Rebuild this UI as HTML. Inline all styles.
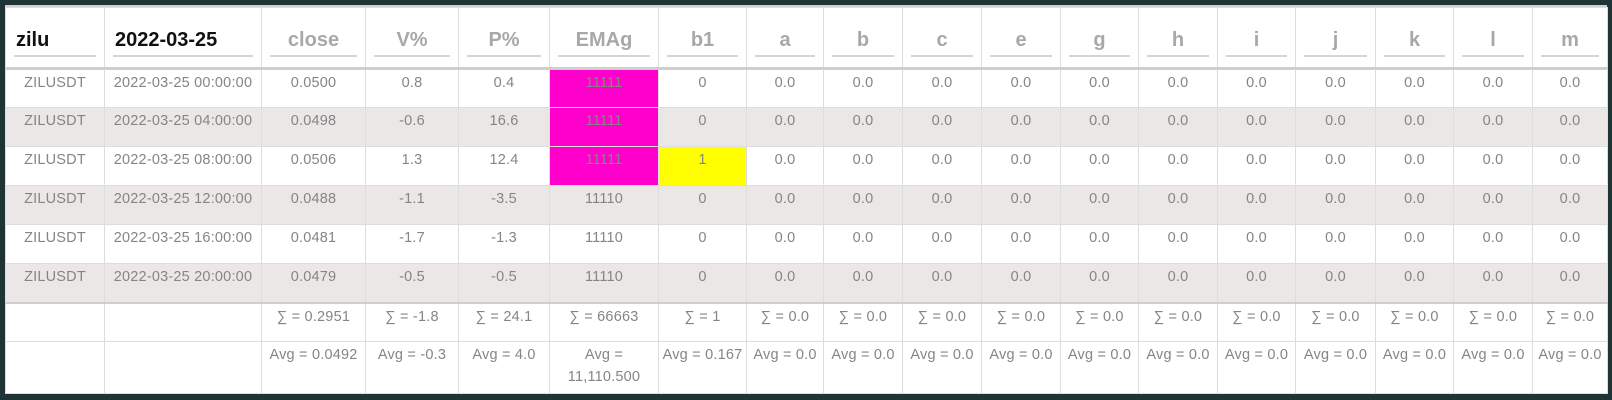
<!DOCTYPE html>
<html><head><meta charset="utf-8">
<style>
html,body{margin:0;padding:0;background:#1f3434;}
body{width:1612px;height:400px;overflow:hidden;position:relative;font-family:"Liberation Sans",sans-serif;}
.wrap{position:absolute;left:5px;top:5px;width:1602px;height:389px;background:#fff;border-top:2px solid #d0d0d0;box-sizing:border-box;}
table{border-collapse:collapse;table-layout:fixed;width:1602px;position:absolute;left:0;top:0;}
td,th{border:1px solid #ddd;text-align:center;color:#858585;font-size:14.5px;letter-spacing:0.2px;font-weight:normal;padding:0;overflow:hidden;white-space:nowrap;}
th{height:59px;font-size:20px;color:#a8a8a8;font-weight:600;position:relative;border-bottom:3px solid #cfcfcf;letter-spacing:0;}
th span{display:block;margin:0 8px;padding-top:4px;height:32px;line-height:34px;border-bottom:2px solid #d5d5d5;}
th.l{text-align:left;color:#111;}
th.l span{padding-left:2px;}
tr.r td{height:39px;vertical-align:top;padding-top:5px;box-sizing:border-box;}
tr.g td{background:#ebe7e6;}
tr.s td{height:39px;vertical-align:top;padding-top:5px;box-sizing:border-box;}
tr.sum td{border-top:2px solid #cfcfcf;}
tr.a td{height:52px;vertical-align:top;padding-top:2px;box-sizing:border-box;white-space:normal;line-height:22px;}
.m{background:#ff00cc !important;}
.y{background:#ffff00 !important;}
</style></head><body>
<div class="wrap">
<table>
<colgroup>
<col style="width:99px"><col style="width:157px"><col style="width:104px"><col style="width:93px"><col style="width:91px"><col style="width:109px"><col style="width:88px">
<col style="width:77px"><col style="width:79px"><col style="width:79px"><col style="width:79px"><col style="width:78px"><col style="width:79px"><col style="width:78px"><col style="width:80px"><col style="width:78px"><col style="width:79px"><col style="width:75px">
</colgroup>
<tr><th class="l"><span>zilu</span></th><th class="l"><span>2022-03-25</span></th><th><span>close</span></th><th><span>V%</span></th><th><span>P%</span></th><th><span>EMAg</span></th><th><span>b1</span></th><th><span>a</span></th><th><span>b</span></th><th><span>c</span></th><th><span>e</span></th><th><span>g</span></th><th><span>h</span></th><th><span>i</span></th><th><span>j</span></th><th><span>k</span></th><th><span>l</span></th><th><span>m</span></th></tr>
<tr class="r"><td>ZILUSDT</td><td>2022-03-25 00:00:00</td><td>0.0500</td><td>0.8</td><td>0.4</td><td class="m">11111</td><td>0</td><td>0.0</td><td>0.0</td><td>0.0</td><td>0.0</td><td>0.0</td><td>0.0</td><td>0.0</td><td>0.0</td><td>0.0</td><td>0.0</td><td>0.0</td></tr>
<tr class="r g"><td>ZILUSDT</td><td>2022-03-25 04:00:00</td><td>0.0498</td><td>-0.6</td><td>16.6</td><td class="m">11111</td><td>0</td><td>0.0</td><td>0.0</td><td>0.0</td><td>0.0</td><td>0.0</td><td>0.0</td><td>0.0</td><td>0.0</td><td>0.0</td><td>0.0</td><td>0.0</td></tr>
<tr class="r"><td>ZILUSDT</td><td>2022-03-25 08:00:00</td><td>0.0506</td><td>1.3</td><td>12.4</td><td class="m">11111</td><td class="y">1</td><td>0.0</td><td>0.0</td><td>0.0</td><td>0.0</td><td>0.0</td><td>0.0</td><td>0.0</td><td>0.0</td><td>0.0</td><td>0.0</td><td>0.0</td></tr>
<tr class="r g"><td>ZILUSDT</td><td>2022-03-25 12:00:00</td><td>0.0488</td><td>-1.1</td><td>-3.5</td><td>11110</td><td>0</td><td>0.0</td><td>0.0</td><td>0.0</td><td>0.0</td><td>0.0</td><td>0.0</td><td>0.0</td><td>0.0</td><td>0.0</td><td>0.0</td><td>0.0</td></tr>
<tr class="r"><td>ZILUSDT</td><td>2022-03-25 16:00:00</td><td>0.0481</td><td>-1.7</td><td>-1.3</td><td>11110</td><td>0</td><td>0.0</td><td>0.0</td><td>0.0</td><td>0.0</td><td>0.0</td><td>0.0</td><td>0.0</td><td>0.0</td><td>0.0</td><td>0.0</td><td>0.0</td></tr>
<tr class="r g"><td>ZILUSDT</td><td>2022-03-25 20:00:00</td><td>0.0479</td><td>-0.5</td><td>-0.5</td><td>11110</td><td>0</td><td>0.0</td><td>0.0</td><td>0.0</td><td>0.0</td><td>0.0</td><td>0.0</td><td>0.0</td><td>0.0</td><td>0.0</td><td>0.0</td><td>0.0</td></tr>
<tr class="s sum"><td></td><td></td><td>∑ = 0.2951</td><td>∑ = -1.8</td><td>∑ = 24.1</td><td>∑ = 66663</td><td>∑ = 1</td><td>∑ = 0.0</td><td>∑ = 0.0</td><td>∑ = 0.0</td><td>∑ = 0.0</td><td>∑ = 0.0</td><td>∑ = 0.0</td><td>∑ = 0.0</td><td>∑ = 0.0</td><td>∑ = 0.0</td><td>∑ = 0.0</td><td>∑ = 0.0</td></tr>
<tr class="a"><td></td><td></td><td>Avg = 0.0492</td><td>Avg = -0.3</td><td>Avg = 4.0</td><td>Avg =<br>11,110.500</td><td>Avg = 0.167</td><td>Avg = 0.0</td><td>Avg = 0.0</td><td>Avg = 0.0</td><td>Avg = 0.0</td><td>Avg = 0.0</td><td>Avg = 0.0</td><td>Avg = 0.0</td><td>Avg = 0.0</td><td>Avg = 0.0</td><td>Avg = 0.0</td><td>Avg = 0.0</td></tr>
</table>
</div>
</body></html>
